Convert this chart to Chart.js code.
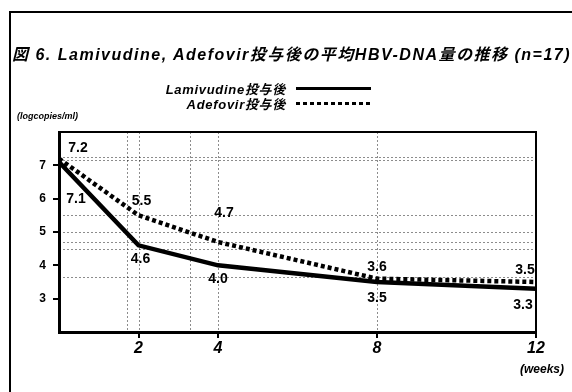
<!DOCTYPE html>
<html>
<head>
<meta charset="utf-8">
<script src="https://cdn.jsdelivr.net/npm/chart.js@4"></script>
<style>
  body { margin: 0; background: #fff; }
  #wrap { position: relative; width: 572px; height: 392px; overflow: hidden;
    font-family: "Liberation Sans", "Noto Sans CJK JP", sans-serif; }
  #frame { position: absolute; left: 9px; top: 11px; width: 600px; height: 400px;
    border-left: 2px solid #000; border-top: 2px solid #000; }
  canvas { position: absolute; left: 0; top: 0; }
  .t { position: absolute; font-weight: bold; font-style: italic; color: #000; white-space: nowrap; }
  #title { left: 12px; top: 41px; font-size: 16px; letter-spacing: 1.5px; }
  .lg { font-size: 13px; letter-spacing: 0.7px; text-align: right; width: 145px; }
  .sw { position: absolute; height: 3px; }
</style>
</head>
<body>
<div id="wrap">
  <div id="frame"></div>
  <canvas id="chart" width="572" height="392"></canvas>
  <div id="title" class="t">図 6. Lamivudine, Adefovir投与後の平均HBV-DNA量の推移 (n=17)</div>
  <div class="t lg" style="left:141px; top:79px;">Lamivudine投与後</div>
  <div class="sw" style="left:296px; top:87px; width:75px; background:#000;"></div>
  <div class="t lg" style="left:141px; top:94px;">Adefovir投与後</div>
  <div class="sw" style="left:296px; top:102px; width:77px; background:repeating-linear-gradient(90deg,#000 0 4px,transparent 4px 7px);"></div>
  <div class="t" style="left:17px; top:111px; font-size:9px;">(logcopies/ml)</div>
  <div class="t" style="left:520px; top:362px; font-size:12px;">(weeks)</div>
</div>
<script>
// DATA //
const weeks = [0, 2, 4, 8, 12];
const lamivudine = [7.1, 4.6, 4.0, 3.5, 3.3];
const adefovir = [7.2, 5.5, 4.7, 3.6, 3.5];
const xTicks = [2, 4, 8, 12];
const yTicks = [3, 4, 5, 6, 7];

// faint scan gridlines (in data units)
const gridY = [7.25, 7.15, 5.5, 5.0, 4.7, 4.5, 3.65];
const gridX = [1.7, 2, 3.3, 4, 8];

// label offsets in px relative to each point
const lamOffsets = [[17, 37], [2, 14], [0, 14], [0, 16], [-13, 16]];
const adeOffsets = [[19, -11], [3, -14], [6, -29], [0, -12], [-11, -12]];

const toXY = (ys) => ys.map((y, i) => ({ x: weeks[i], y: y }));

// draws the box, the faint grid and the value labels
const extras = {
  id: "extras",
  beforeDatasetsDraw(chart) {
    const { ctx, chartArea: a, scales: { x, y } } = chart;
    ctx.save();
    ctx.strokeStyle = "rgba(0,0,0,0.45)";
    ctx.lineWidth = 1;
    ctx.setLineDash([2, 2]);
    gridY.forEach((v) => {
      const py = Math.round(y.getPixelForValue(v)) + 0.5;
      ctx.beginPath(); ctx.moveTo(a.left, py); ctx.lineTo(a.right, py); ctx.stroke();
    });
    gridX.forEach((v) => {
      const px = Math.round(x.getPixelForValue(v)) + 0.5;
      ctx.beginPath(); ctx.moveTo(px, a.top); ctx.lineTo(px, a.bottom); ctx.stroke();
    });
    ctx.restore();
  },
  afterDatasetsDraw(chart) {
    const { ctx, chartArea: a } = chart;
    ctx.save();
    ctx.strokeStyle = "#000";
    ctx.lineWidth = 2;
    ctx.strokeRect(a.left, a.top, a.right - a.left, a.bottom - a.top);
    ctx.font = "bold 14px 'Liberation Sans', sans-serif";
    ctx.fillStyle = "#000";
    ctx.textAlign = "center";
    ctx.textBaseline = "middle";
    [[0, lamivudine, lamOffsets], [1, adefovir, adeOffsets]].forEach(([di, vals, offs]) => {
      chart.getDatasetMeta(di).data.forEach((pt, i) => {
        ctx.fillText(vals[i].toFixed(1), pt.x + offs[i][0], pt.y + offs[i][1]);
      });
    });
    ctx.restore();
  },
};

new Chart(document.getElementById("chart"), {
  type: "line",
  data: {
    datasets: [
      {
        label: "Lamivudine投与後",
        data: toXY(lamivudine),
        borderColor: "#000",
        borderWidth: 4.5,
        pointRadius: 0,
        tension: 0,
      },
      {
        label: "Adefovir投与後",
        data: toXY(adefovir),
        borderColor: "#000",
        borderWidth: 4.5,
        borderDash: [4, 3],
        borderCapStyle: "butt",
        pointRadius: 0,
        tension: 0,
      },
    ],
  },
  options: {
    responsive: false,
    animation: false,
    events: [],
    layout: { padding: { top: 132, left: 20, right: 36, bottom: 30 } },
    plugins: { legend: { display: false }, tooltip: { enabled: false } },
    scales: {
      x: {
        type: "linear",
        min: 0,
        max: 12,
        afterBuildTicks: (s) => { s.ticks = xTicks.map((v) => ({ value: v })); },
        afterFit: (s) => { s.height = 30; },
        grid: { drawOnChartArea: false, color: "#000", lineWidth: 2, tickLength: 6 },
        border: { color: "#000", width: 3 },
        ticks: {
          color: "#000",
          padding: 1,
          maxRotation: 0,
          font: { family: "'Liberation Sans', sans-serif", size: 16, weight: "bold", style: "italic" },
        },
      },
      y: {
        min: 2,
        max: 8,
        afterBuildTicks: (s) => { s.ticks = yTicks.map((v) => ({ value: v })); },
        afterFit: (s) => { s.width = 39; },
        grid: { drawOnChartArea: false, color: "#000", lineWidth: 2, tickLength: 6 },
        border: { color: "#000", width: 3 },
        ticks: {
          color: "#000",
          padding: 7,
          font: { family: "'Liberation Sans', sans-serif", size: 12, weight: "bold" },
        },
      },
    },
  },
  plugins: [extras],
});
</script>
</body>
</html>
